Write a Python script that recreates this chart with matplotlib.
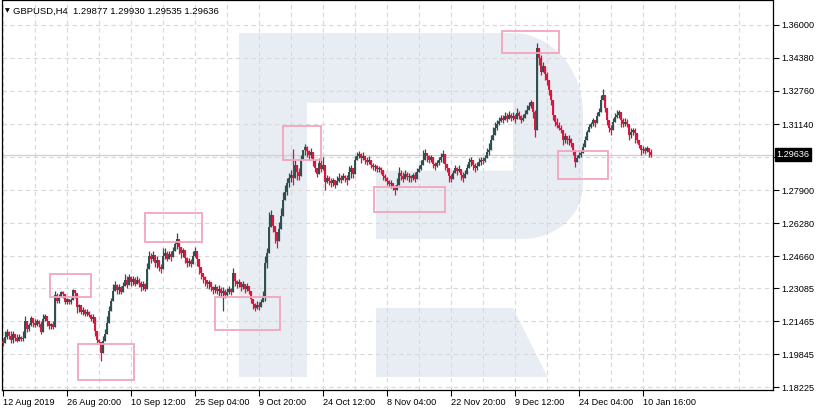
import numpy as np
import matplotlib
matplotlib.use("Agg")
import matplotlib.pyplot as plt
import matplotlib.transforms as mtransforms
from matplotlib.patches import Polygon, Rectangle

W, H = 819, 411

# ---- data (one candle per two H4 bars) ----
header = "GBPUSD,H4  1.29877 1.29930 1.29535 1.29636"
last_price = 1.29636
first_open = 1.2050
closes = [
    1.2040, 1.2070, 1.2094, 1.2075, 1.2055, 1.2085, 1.2065, 1.2050, 1.2070, 1.2060,
    1.2065, 1.2149, 1.2109, 1.2129, 1.2163, 1.2139, 1.2129, 1.2149, 1.2134, 1.2094,
    1.2158, 1.2173, 1.2149, 1.2124, 1.2134, 1.2119, 1.2277, 1.2247, 1.2267, 1.2291,
    1.2281, 1.2242, 1.2257, 1.2242, 1.2252, 1.2301, 1.2286, 1.2218, 1.2227, 1.2193,
    1.2203, 1.2183, 1.2193, 1.2178, 1.2158, 1.2168, 1.2099, 1.2055, 1.2045, 1.1991,
    1.2050, 1.2085, 1.2139, 1.2198, 1.2247, 1.2296, 1.2326, 1.2301, 1.2316, 1.2291,
    1.2321, 1.2350, 1.2326, 1.2365, 1.2341, 1.2355, 1.2331, 1.2350, 1.2336, 1.2316,
    1.2331, 1.2306, 1.2405, 1.2468, 1.2454, 1.2473, 1.2434, 1.2449, 1.2414, 1.2405,
    1.2468, 1.2483, 1.2454, 1.2478, 1.2463, 1.2493, 1.2523, 1.2552, 1.2513, 1.2483,
    1.2498, 1.2459, 1.2434, 1.2444, 1.2429, 1.2468, 1.2493, 1.2454, 1.2414, 1.2385,
    1.2365, 1.2350, 1.2331, 1.2341, 1.2316, 1.2301, 1.2316, 1.2296, 1.2306, 1.2286,
    1.2296, 1.2277, 1.2291, 1.2306, 1.2291, 1.2385, 1.2345, 1.2331, 1.2341, 1.2316,
    1.2331, 1.2306, 1.2321, 1.2296, 1.2257, 1.2232, 1.2213, 1.2227, 1.2218, 1.2242,
    1.2267, 1.2434, 1.2483, 1.2611, 1.2670, 1.2616, 1.2582, 1.2542, 1.2601, 1.2665,
    1.2739, 1.2779, 1.2823, 1.2847, 1.2862, 1.2847, 1.2911, 1.2877, 1.2857, 1.2936,
    1.2985, 1.3000, 1.2980, 1.2960, 1.2975, 1.2936, 1.2896, 1.2867, 1.2921, 1.2892,
    1.2911, 1.2828, 1.2847, 1.2833, 1.2823, 1.2838, 1.2813, 1.2833, 1.2847, 1.2838,
    1.2857, 1.2847, 1.2838, 1.2877, 1.2896, 1.2867, 1.2936, 1.2955, 1.2965, 1.2946,
    1.2955, 1.2936, 1.2926, 1.2936, 1.2911, 1.2901, 1.2906, 1.2892, 1.2896, 1.2887,
    1.2857, 1.2847, 1.2833, 1.2818, 1.2823, 1.2803, 1.2788, 1.2813, 1.2872, 1.2857,
    1.2842, 1.2867, 1.2852, 1.2857, 1.2847, 1.2862, 1.2842, 1.2877, 1.2892, 1.2911,
    1.2936, 1.2970, 1.2955, 1.2936, 1.2951, 1.2916, 1.2906, 1.2921, 1.2936, 1.2951,
    1.2965, 1.2916, 1.2896, 1.2857, 1.2842, 1.2872, 1.2896, 1.2882, 1.2892, 1.2862,
    1.2847, 1.2867, 1.2896, 1.2926, 1.2936, 1.2911, 1.2896, 1.2906, 1.2926, 1.2936,
    1.2931, 1.2946, 1.2975, 1.2985, 1.3034, 1.3059, 1.3093, 1.3113, 1.3128, 1.3142,
    1.3133, 1.3152, 1.3138, 1.3157, 1.3142, 1.3152, 1.3138, 1.3167, 1.3152, 1.3133,
    1.3142, 1.3162, 1.3182, 1.3202, 1.3221, 1.3172, 1.3083, 1.3487, 1.3438, 1.3369,
    1.3398, 1.3359, 1.3329, 1.3280, 1.3231, 1.3157, 1.3123, 1.3108, 1.3093, 1.3083,
    1.3034, 1.3054, 1.3034, 1.3039, 1.3020, 1.2985, 1.2926, 1.2946, 1.2960, 1.2970,
    1.3000, 1.3034, 1.3074, 1.3098, 1.3113, 1.3133, 1.3118, 1.3152, 1.3172, 1.3231,
    1.3256, 1.3192, 1.3133, 1.3093, 1.3083, 1.3123, 1.3147, 1.3157, 1.3172, 1.3133,
    1.3113, 1.3123, 1.3113, 1.3059, 1.3074, 1.3083, 1.3069, 1.3034, 1.3010, 1.2985,
    1.2990, 1.2980, 1.2995, 1.2975, 1.29636,
]
highs = [
    1.2065, 1.2099, 1.2110, 1.2099, 1.2099, 1.2099, 1.2085, 1.2085, 1.2085, 1.2075,
    1.2099, 1.2173, 1.2134, 1.2139, 1.2173, 1.2163, 1.2158, 1.2158, 1.2153, 1.2149,
    1.2183, 1.2183, 1.2158, 1.2139, 1.2139, 1.2149, 1.2296, 1.2286, 1.2281, 1.2296,
    1.2296, 1.2272, 1.2262, 1.2257, 1.2262, 1.2306, 1.2296, 1.2267, 1.2232, 1.2222,
    1.2218, 1.2208, 1.2208, 1.2198, 1.2183, 1.2183, 1.2114, 1.2070, 1.2060, 1.2035,
    1.2075, 1.2109, 1.2173, 1.2222, 1.2262, 1.2331, 1.2345, 1.2331, 1.2331, 1.2321,
    1.2340, 1.2380, 1.2370, 1.2380, 1.2370, 1.2370, 1.2365, 1.2370, 1.2360, 1.2345,
    1.2345, 1.2336, 1.2434, 1.2493, 1.2483, 1.2493, 1.2468, 1.2468, 1.2444, 1.2429,
    1.2508, 1.2508, 1.2493, 1.2493, 1.2493, 1.2513, 1.2542, 1.2577, 1.2542, 1.2503,
    1.2508, 1.2478, 1.2463, 1.2459, 1.2454, 1.2493, 1.2513, 1.2478, 1.2434, 1.2405,
    1.2385, 1.2370, 1.2345, 1.2350, 1.2336, 1.2321, 1.2331, 1.2321, 1.2326, 1.2316,
    1.2316, 1.2306, 1.2311, 1.2321, 1.2311, 1.2409, 1.2365, 1.2350, 1.2355, 1.2340,
    1.2345, 1.2331, 1.2336, 1.2321, 1.2281, 1.2257, 1.2237, 1.2247, 1.2242, 1.2257,
    1.2296, 1.2468, 1.2508, 1.2680, 1.2690, 1.2641, 1.2611, 1.2582, 1.2631, 1.2700,
    1.2778, 1.2813, 1.2847, 1.2872, 1.2887, 1.2990, 1.2936, 1.2906, 1.2896, 1.2960,
    1.2985, 1.3015, 1.3005, 1.2985, 1.2995, 1.2960, 1.2926, 1.2896, 1.2946, 1.2936,
    1.2951, 1.2877, 1.2862, 1.2857, 1.2847, 1.2847, 1.2837, 1.2857, 1.2872, 1.2862,
    1.2872, 1.2862, 1.2862, 1.2906, 1.2911, 1.2896, 1.2955, 1.2975, 1.2980, 1.2970,
    1.2975, 1.2955, 1.2951, 1.2955, 1.2931, 1.2921, 1.2916, 1.2911, 1.2906, 1.2901,
    1.2877, 1.2867, 1.2852, 1.2837, 1.2837, 1.2823, 1.2813, 1.2847, 1.2901, 1.2887,
    1.2877, 1.2887, 1.2877, 1.2872, 1.2862, 1.2872, 1.2877, 1.2896, 1.2911, 1.2936,
    1.2985, 1.2990, 1.2970, 1.2960, 1.2960, 1.2936, 1.2926, 1.2936, 1.2951, 1.2970,
    1.2985, 1.2936, 1.2911, 1.2887, 1.2867, 1.2887, 1.2911, 1.2901, 1.2911, 1.2887,
    1.2877, 1.2887, 1.2916, 1.2946, 1.2951, 1.2926, 1.2921, 1.2926, 1.2946, 1.2951,
    1.2951, 1.2960, 1.2995, 1.3020, 1.3059, 1.3098, 1.3123, 1.3133, 1.3147, 1.3157,
    1.3157, 1.3172, 1.3167, 1.3177, 1.3167, 1.3172, 1.3162, 1.3192, 1.3177, 1.3157,
    1.3162, 1.3182, 1.3207, 1.3221, 1.3231, 1.3197, 1.3182, 1.3511, 1.3477, 1.3452,
    1.3418, 1.3393, 1.3369, 1.3329, 1.3270, 1.3206, 1.3147, 1.3142, 1.3123, 1.3108,
    1.3069, 1.3069, 1.3054, 1.3059, 1.3044, 1.3010, 1.2960, 1.2960, 1.2975, 1.2985,
    1.3020, 1.3054, 1.3083, 1.3113, 1.3123, 1.3142, 1.3133, 1.3172, 1.3192, 1.3256,
    1.3285, 1.3216, 1.3157, 1.3113, 1.3108, 1.3142, 1.3167, 1.3182, 1.3182, 1.3167,
    1.3142, 1.3142, 1.3138, 1.3093, 1.3093, 1.3093, 1.3093, 1.3059, 1.3034, 1.3000,
    1.3005, 1.3000, 1.3005, 1.2995, 1.29930,
]
lows = [
    1.2025, 1.2050, 1.2060, 1.2060, 1.2040, 1.2040, 1.2050, 1.2045, 1.2050, 1.2050,
    1.2050, 1.2089, 1.2094, 1.2099, 1.2124, 1.2119, 1.2119, 1.2124, 1.2119, 1.2085,
    1.2149, 1.2149, 1.2124, 1.2109, 1.2109, 1.2109, 1.2213, 1.2237, 1.2237, 1.2272,
    1.2262, 1.2232, 1.2232, 1.2232, 1.2232, 1.2281, 1.2262, 1.2188, 1.2193, 1.2183,
    1.2178, 1.2173, 1.2173, 1.2168, 1.2149, 1.2139, 1.2075, 1.2040, 1.2035, 1.1952,
    1.2025, 1.2050, 1.2099, 1.2173, 1.2198, 1.2247, 1.2296, 1.2281, 1.2281, 1.2281,
    1.2296, 1.2326, 1.2311, 1.2326, 1.2321, 1.2326, 1.2321, 1.2331, 1.2316, 1.2296,
    1.2301, 1.2296, 1.2345, 1.2419, 1.2434, 1.2444, 1.2414, 1.2409, 1.2395, 1.2385,
    1.2434, 1.2454, 1.2444, 1.2454, 1.2444, 1.2473, 1.2493, 1.2503, 1.2478, 1.2459,
    1.2463, 1.2434, 1.2414, 1.2419, 1.2414, 1.2454, 1.2463, 1.2419, 1.2380, 1.2355,
    1.2336, 1.2321, 1.2311, 1.2306, 1.2296, 1.2281, 1.2286, 1.2281, 1.2272, 1.2267,
    1.2198, 1.2262, 1.2267, 1.2281, 1.2277, 1.2345, 1.2321, 1.2311, 1.2316, 1.2296,
    1.2306, 1.2286, 1.2296, 1.2281, 1.2237, 1.2208, 1.2198, 1.2208, 1.2203, 1.2218,
    1.2247, 1.2247, 1.2409, 1.2542, 1.2616, 1.2582, 1.2532, 1.2508, 1.2542, 1.2606,
    1.2680, 1.2739, 1.2764, 1.2803, 1.2828, 1.2813, 1.2862, 1.2837, 1.2837, 1.2911,
    1.2936, 1.2960, 1.2951, 1.2936, 1.2946, 1.2906, 1.2877, 1.2852, 1.2887, 1.2877,
    1.2887, 1.2788, 1.2823, 1.2813, 1.2803, 1.2808, 1.2798, 1.2813, 1.2828, 1.2823,
    1.2837, 1.2828, 1.2813, 1.2852, 1.2847, 1.2847, 1.2911, 1.2936, 1.2946, 1.2921,
    1.2936, 1.2916, 1.2911, 1.2916, 1.2896, 1.2887, 1.2882, 1.2877, 1.2877, 1.2867,
    1.2837, 1.2832, 1.2813, 1.2803, 1.2798, 1.2788, 1.2768, 1.2788, 1.2847, 1.2837,
    1.2828, 1.2847, 1.2837, 1.2828, 1.2828, 1.2837, 1.2828, 1.2862, 1.2877, 1.2887,
    1.2926, 1.2946, 1.2926, 1.2921, 1.2926, 1.2896, 1.2887, 1.2901, 1.2911, 1.2926,
    1.2921, 1.2887, 1.2877, 1.2828, 1.2828, 1.2852, 1.2877, 1.2862, 1.2877, 1.2837,
    1.2828, 1.2847, 1.2877, 1.2901, 1.2906, 1.2887, 1.2877, 1.2887, 1.2911, 1.2911,
    1.2916, 1.2926, 1.2951, 1.2960, 1.3010, 1.3034, 1.3059, 1.3083, 1.3108, 1.3123,
    1.3118, 1.3133, 1.3123, 1.3142, 1.3128, 1.3133, 1.3118, 1.3152, 1.3138, 1.3118,
    1.3128, 1.3147, 1.3167, 1.3182, 1.3192, 1.3142, 1.3049, 1.3428, 1.3403, 1.3354,
    1.3369, 1.3329, 1.3305, 1.3256, 1.3206, 1.3133, 1.3103, 1.3093, 1.3083, 1.3069,
    1.3010, 1.3020, 1.3015, 1.3010, 1.3000, 1.2960, 1.2901, 1.2926, 1.2946, 1.2951,
    1.2985, 1.3010, 1.3049, 1.3083, 1.3093, 1.3103, 1.3098, 1.3133, 1.3152, 1.3192,
    1.3231, 1.3172, 1.3108, 1.3074, 1.3059, 1.3103, 1.3128, 1.3142, 1.3142, 1.3098,
    1.3098, 1.3103, 1.3098, 1.3034, 1.3044, 1.3059, 1.3020, 1.3020, 1.2995, 1.2960,
    1.2970, 1.2965, 1.2975, 1.2951, 1.29535,
]

date_labels = ["12 Aug 2019", "26 Aug 20:00", "10 Sep 12:00", "25 Sep 04:00",
               "9 Oct 20:00", "24 Oct 12:00", "8 Nov 04:00", "22 Nov 20:00",
               "9 Dec 12:00", "24 Dec 04:00", "10 Jan 16:00"]
price_ticks = [1.36000, 1.34380, 1.32760, 1.31140, 1.29520, 1.27900, 1.26280,
               1.24660, 1.23085, 1.21465, 1.19845, 1.18225]
price_labels = ["1.36000", "1.34380", "1.32760", "1.31140", "", "1.27900", "1.26280",
                "1.24660", "1.23085", "1.21465", "1.19845", "1.18225"]

# marked zones: (bar from, bar to, price low, price high)
zones = [(47, 88, 1.2265, 1.2378), (75, 131, 1.1857, 1.2034),
         (142, 199, 1.2536, 1.2678), (212, 277, 1.2103, 1.2266),
         (280, 318, 1.2939, 1.3102), (371, 442, 1.2683, 1.2806),
         (499, 556, 1.3461, 1.3569), (555, 605, 1.2846, 1.2984)]

BULL = "#2f4f4f"
BEAR = "#dc143c"
FONT = ["Liberation Sans", "DejaVu Sans"]

plt.rcParams['font.family'] = FONT

fig = plt.figure(figsize=(W / 100, H / 100), dpi=100)
ax = fig.add_axes([2 / W, (H - 390) / H, 771 / W, 389.5 / H])

# pixel space (y down) for the watermark
px = mtransforms.Affine2D().scale(1 / W, -1 / H).translate(0, 1) + fig.transFigure
wm = "#e8edf4"
t = np.linspace(0, np.pi / 2, 30)
bowl = [(307, 33), (512, 33)]
bowl += list(zip(512 + 71 * np.sin(t), 113 - 80 * np.cos(t)))
bowl += list(zip(522 + 61 * np.cos(t), 185 + 54 * np.sin(t)))
bowl += [(376, 239), (376, 170.7), (513, 170.7), (513, 102.7), (307, 102.7)]
for pts in [bowl,
            [(239, 33), (307, 33), (307, 377), (239, 377)],
            [(376, 308), (513, 308), (547.5, 377), (376, 377)]]:
    ax.add_patch(Polygon(pts, closed=True, transform=px, facecolor=wm,
                         edgecolor="none", zorder=0))

# candles
closes = np.array(closes)
opens = np.concatenate([[first_open], closes[:-1]])
xs = np.arange(len(closes)) * 2
cols = [BULL if c >= o else BEAR for o, c in zip(opens, closes)]
lo = np.minimum(opens, closes)
hi = np.maximum(opens, closes)
ax.vlines(xs, np.minimum(lows, lo), np.maximum(highs, hi), colors=cols,
          lw=0.9, zorder=3)
ax.vlines(xs, lo, hi, colors=cols, lw=1.4, zorder=3)

# bid line
ax.axhline(last_price, color="#cfcfcf", lw=0.9, zorder=1)

for x0, x1, p0, p1 in zones:
    ax.add_patch(Rectangle((x0, p0), x1 - x0, p1 - p0, fill=False,
                           edgecolor="#f2a6bc", lw=1.3, zorder=4))

ax.set_xlim(-1, 770)
ax.set_ylim(1.1809, 1.3720)

ax.set_xticks(np.arange(len(date_labels)) * 64)
ax.set_xticklabels(date_labels, ha="left", fontsize=6.6)
ax.set_xticks(np.arange(32, 770, 64), minor=True)
ax.yaxis.tick_right()
ax.set_yticks(price_ticks)
ax.set_yticklabels(price_labels, fontsize=6.6)
ax.tick_params(axis="x", which="major", length=4, width=0.8, pad=2)
ax.tick_params(axis="x", which="minor", length=0)
ax.tick_params(axis="y", length=4, width=0.8, pad=2)
ax.set_axisbelow(True)
ax.grid(True, which="both", color="#d8d8d8", lw=0.8, ls=(0, (4, 3)))

for s in ax.spines.values():
    s.set_linewidth(0.9)
    s.set_color("black")

# current price tag
ax.text(1.0045, last_price, "%.5f" % last_price, transform=ax.get_yaxis_transform(),
        ha="left", va="center", fontsize=6.6, color="white", clip_on=False,
        bbox=dict(boxstyle="square,pad=0.2", fc="black", ec="black"))

fig.text(4.5 / W, 1 - 11 / H, "\u25bc", fontsize=4.5, va="center", ha="left",
         family=["DejaVu Sans"])
fig.text(13 / W, 1 - 11 / H, header, fontsize=6.8, va="center", ha="left")

fig.savefig("out.png", dpi=100, facecolor="white")
